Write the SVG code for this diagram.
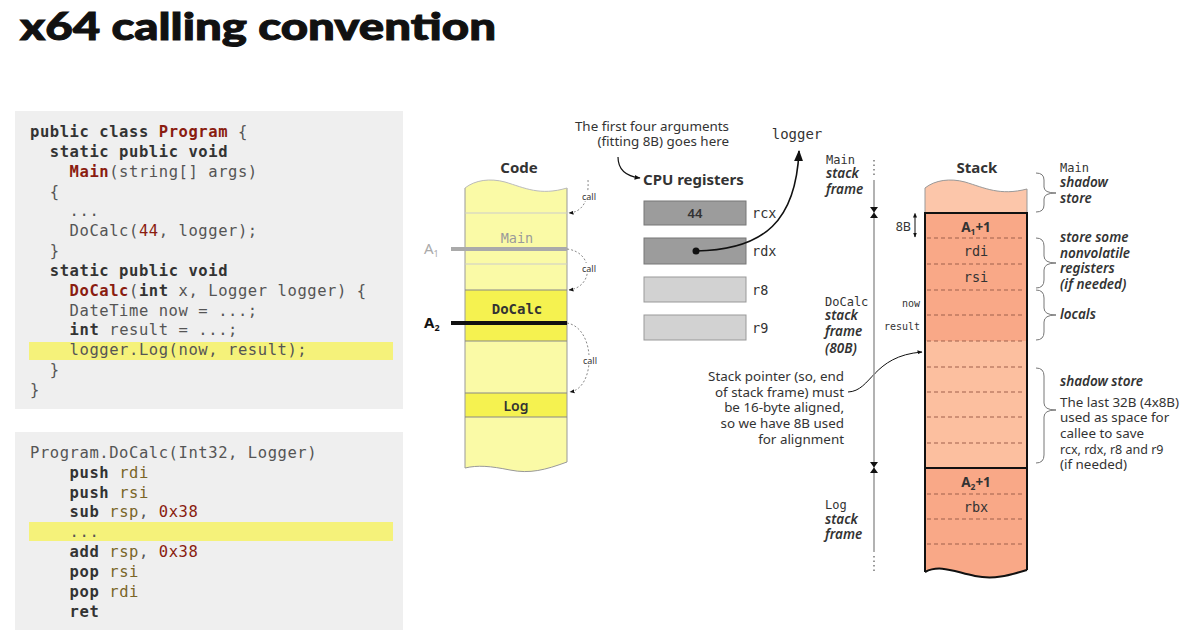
<svg xmlns="http://www.w3.org/2000/svg" width="1200" height="641" viewBox="0 0 1200 641">
<style>
.code{font-family:"DejaVu Sans Mono",monospace;font-size:15.5px;letter-spacing:0.57px;fill:#555}
.kw{fill:#333;font-weight:bold}
.id{fill:#8a1c10;font-weight:bold}
.num{fill:#8a1c10}
.reg{fill:#7a6528}
.sans{font-family:"Noto Sans","Open Sans",sans-serif;fill:#333}
.bold{font-weight:bold}
.it{font-family:"Noto Sans","Open Sans",sans-serif;font-style:italic;font-weight:600;font-size:13.5px;fill:#333}
.mono{font-family:"DejaVu Sans Mono",monospace;fill:#333}
.dash{fill:none;stroke:#888;stroke-width:1;stroke-dasharray:2,2}
.sdash{stroke:#a0604c;stroke-width:1.2;stroke-dasharray:4,3}
.brace{fill:none;stroke:#777;stroke-width:1}
.note{font-family:"Noto Sans","Open Sans",sans-serif;fill:#333;font-size:13.4px}
</style>
<defs>
<marker id="ah" viewBox="0 0 10 10" refX="9" refY="5" markerWidth="7" markerHeight="7" orient="auto"><path d="M0,1 L10,5 L0,9 Z" fill="#111"/></marker>
<marker id="ahs" viewBox="0 0 10 10" refX="9" refY="5" markerWidth="5" markerHeight="5" orient="auto"><path d="M0,1 L10,5 L0,9 Z" fill="#111"/></marker>
<marker id="ahb" viewBox="0 0 10 10" refX="1" refY="5" markerWidth="5" markerHeight="5" orient="auto-start-reverse"><path d="M0,1 L10,5 L0,9 Z" fill="#111"/></marker>
</defs>
<rect width="1200" height="641" fill="#fff"/>
<text x="20" y="40" font-family="Lato,'Open Sans',sans-serif" font-weight="900" font-size="38" fill="#111" stroke="#111" stroke-width="1" textLength="476" lengthAdjust="spacingAndGlyphs">x64 calling convention</text>

<g id="code1">
<rect x="15" y="111" width="388" height="298" fill="#efefef"/>
<rect x="29" y="342" width="364" height="18" fill="#f5f27a"/>
<text class="code" xml:space="preserve">
<tspan x="30" y="137"><tspan class="kw">public class </tspan><tspan class="id">Program</tspan> {</tspan>
<tspan x="30" y="157">  <tspan class="kw">static public void</tspan></tspan>
<tspan x="30" y="177">    <tspan class="id">Main</tspan>(string[] args)</tspan>
<tspan x="30" y="197">  {</tspan>
<tspan x="30" y="216">    ...</tspan>
<tspan x="30" y="236">    DoCalc(<tspan class="num">44</tspan>, logger);</tspan>
<tspan x="30" y="256">  }</tspan>
<tspan x="30" y="276">  <tspan class="kw">static public void</tspan></tspan>
<tspan x="30" y="296">    <tspan class="id">DoCalc</tspan>(<tspan class="kw">int</tspan> x, Logger logger) {</tspan>
<tspan x="30" y="316">    DateTime now = ...;</tspan>
<tspan x="30" y="335">    <tspan class="kw">int</tspan> result = ...;</tspan>
<tspan x="30" y="355">    logger.Log(now, result);</tspan>
<tspan x="30" y="375">  }</tspan>
<tspan x="30" y="395">}</tspan>
</text>
</g>

<g id="code2">
<rect x="15" y="432" width="388" height="198" fill="#efefef"/>
<rect x="29" y="522" width="364" height="19" fill="#f5f27a"/>
<text class="code" xml:space="preserve">
<tspan x="30" y="458">Program.DoCalc(Int32, Logger)</tspan>
<tspan x="30" y="478">    <tspan class="kw">push</tspan> <tspan class="reg">rdi</tspan></tspan>
<tspan x="30" y="498">    <tspan class="kw">push</tspan> <tspan class="reg">rsi</tspan></tspan>
<tspan x="30" y="517">    <tspan class="kw">sub</tspan> <tspan class="reg">rsp</tspan>, <tspan class="num">0x38</tspan></tspan>
<tspan x="30" y="537">    ...</tspan>
<tspan x="30" y="557">    <tspan class="kw">add</tspan> <tspan class="reg">rsp</tspan>, <tspan class="num">0x38</tspan></tspan>
<tspan x="30" y="577">    <tspan class="kw">pop</tspan> <tspan class="reg">rsi</tspan></tspan>
<tspan x="30" y="597">    <tspan class="kw">pop</tspan> <tspan class="reg">rdi</tspan></tspan>
<tspan x="30" y="617">    <tspan class="kw">ret</tspan></tspan>
</text>
</g>

<g id="code-column">
<text x="519" y="173" class="sans bold" font-size="15" text-anchor="middle">Code</text>
<path d="M465,188 C475,180 490,178 505,182 C525,188 540,196 567,188 L567,462 C545,470 530,474 510,470 C490,466 478,465 465,468 Z" fill="#fafaa6"/>
<rect x="465" y="290" width="102" height="51" fill="#f5f250"/>
<rect x="465" y="393" width="102" height="24" fill="#f5f250"/>
<path d="M465,188 L465,468 M567,188 L567,462" stroke="#999" stroke-width="1" fill="none"/>
<path d="M465,188 C475,180 490,178 505,182 C525,188 540,196 567,188" stroke="#bbb" fill="none"/>
<path d="M465,468 C478,465 490,466 510,470 C530,474 545,470 567,462" stroke="#999" fill="none"/>
<line x1="465" y1="213" x2="567" y2="213" stroke="#ccc"/>
<line x1="465" y1="264" x2="567" y2="264" stroke="#ccc"/>
<line x1="465" y1="290" x2="567" y2="290" stroke="#888"/>
<line x1="465" y1="341" x2="567" y2="341" stroke="#888"/>
<line x1="465" y1="393" x2="567" y2="393" stroke="#888"/>
<line x1="465" y1="417" x2="567" y2="417" stroke="#888"/>
<text x="517" y="243" class="mono" font-size="13.5" text-anchor="middle" style="fill:#9a9a9a">Main</text>
<text x="517" y="314" class="mono bold" font-size="14" text-anchor="middle">DoCalc</text>
<text x="516" y="411" class="sans" font-size="14" font-weight="600" text-anchor="middle">Log</text>
<line x1="451" y1="249" x2="567" y2="249" stroke="#aaa" stroke-width="4"/>
<line x1="451" y1="323" x2="567" y2="323" stroke="#111" stroke-width="4"/>
<text x="424" y="254" class="sans" font-size="15" style="fill:#aaa">A<tspan font-size="9" dy="3">1</tspan></text>
<text x="424" y="328" class="sans bold" font-size="15" style="fill:#111">A<tspan font-size="9" dy="3">2</tspan></text>
</g>

<g id="calls">
<path d="M588,180 C589,200 583,212 569,213" class="dash" marker-end="url(#ahs)"/>
<path d="M567,249 C594,252 594,287 569,290" class="dash" marker-end="url(#ahs)"/>
<path d="M567,323 C596,328 596,388 570,392" class="dash" marker-end="url(#ahs)"/>
<rect x="580" y="191" width="18" height="10" fill="#fff"/>
<rect x="580" y="263" width="18" height="10" fill="#fff"/>
<rect x="580" y="355" width="18" height="10" fill="#fff"/>
<text x="589" y="200" class="sans" font-size="9" text-anchor="middle">call</text>
<text x="589" y="272" class="sans" font-size="9" text-anchor="middle">call</text>
<text x="590" y="364" class="sans" font-size="9" text-anchor="middle">call</text>
</g>

<g id="cpu">
<text x="729" y="131" class="note" text-anchor="end">The first four arguments</text>
<text x="729" y="146" class="note" text-anchor="end">(fitting 8B) goes here</text>
<path d="M618,157 C618,168 624,176 640,178" fill="none" stroke="#111" stroke-width="1.2" marker-end="url(#ahs)"/>
<text x="643" y="185" class="sans bold" font-size="15">CPU registers</text>
<rect x="644" y="201" width="102" height="24" fill="#9c9c9c" stroke="#777"/>
<rect x="644" y="238" width="102" height="26" fill="#9c9c9c" stroke="#777"/>
<rect x="644" y="277" width="102" height="25" fill="#d2d2d2" stroke="#999"/>
<rect x="644" y="315" width="102" height="25" fill="#d2d2d2" stroke="#999"/>
<text x="695" y="218" class="sans" font-size="13" font-weight="600" text-anchor="middle">44</text>
<text x="752" y="218" class="mono" font-size="13.5">rcx</text>
<text x="752" y="256" class="mono" font-size="13.5">rdx</text>
<text x="752" y="295" class="mono" font-size="13.5">r8</text>
<text x="752" y="333" class="mono" font-size="13.5">r9</text>
<text x="797" y="139" class="mono" font-size="14" text-anchor="middle">logger</text>
</g>

<g id="connectors">
<circle cx="696" cy="251" r="3.5" fill="#111"/>
<path d="M696,251 C765,250 796,220 799,151" fill="none" stroke="#111" stroke-width="1.6" marker-end="url(#ah)"/>
<path d="M848,392 C872,391 872,356 922,352" fill="none" stroke="#111" stroke-width="1" marker-end="url(#ahs)"/>
</g>

<g id="axis">
<line x1="874" y1="160" x2="874" y2="175" stroke="#777" stroke-width="1.5" stroke-dasharray="1.5,3"/>
<line x1="874" y1="180" x2="874" y2="552" stroke="#999" stroke-width="1.5"/>
<line x1="874" y1="556" x2="874" y2="574" stroke="#777" stroke-width="1.5" stroke-dasharray="1.5,3"/>
<path d="M870,207 L878,207 L874,212.5 Z M870,218 L878,218 L874,212.5 Z" fill="#111"/>
<path d="M870,462 L878,462 L874,467.5 Z M870,473 L878,473 L874,467.5 Z" fill="#111"/>
<text x="826" y="164" class="mono" font-size="12">Main</text>
<text x="826" y="178" class="it">stack</text>
<text x="826" y="194" class="it">frame</text>
<text x="825" y="306" class="mono" font-size="12">DoCalc</text>
<text x="825" y="320" class="it">stack</text>
<text x="825" y="336" class="it">frame</text>
<text x="825" y="353" class="it">(80B)</text>
<text x="825" y="509" class="mono" font-size="12">Log</text>
<text x="825" y="524" class="it">stack</text>
<text x="825" y="539" class="it">frame</text>
<text x="844" y="381" class="note" text-anchor="end">Stack pointer (so, end</text>
<text x="844" y="397" class="note" text-anchor="end">of stack frame) must</text>
<text x="844" y="412" class="note" text-anchor="end">be 16-byte aligned,</text>
<text x="844" y="428" class="note" text-anchor="end">so we have 8B used</text>
<text x="844" y="444" class="note" text-anchor="end">for alignment</text>
<text x="911" y="231" class="sans" font-size="12.5" text-anchor="end">8B</text>
<line x1="915" y1="217" x2="915" y2="237" stroke="#111" stroke-width="1" marker-start="url(#ahb)" marker-end="url(#ahs)"/>
<text x="920" y="307" class="mono" font-size="10" text-anchor="end">now</text>
<text x="920" y="330" class="mono" font-size="10" text-anchor="end">result</text>
</g>

<g id="stack">
<text x="977" y="173" class="sans bold" font-size="15" text-anchor="middle">Stack</text>
<path d="M925,188 C935,180 950,178 965,182 C985,188 1000,196 1027,189 L1027,213 L925,213 Z" fill="#fcc6aa"/>
<path d="M925,188 C935,180 950,178 965,182 C985,188 1000,196 1027,189" stroke="#999" fill="none"/>
<path d="M925,188 L925,213 M1027,189 L1027,213" stroke="#999"/>
<rect x="925" y="213" width="102" height="128" fill="#f9a887"/>
<rect x="925" y="341" width="102" height="127" fill="#fcbf9f"/>
<path d="M925,468 L1027,468 L1027,570 C1010,575 995,580 975,576 C955,572 940,564 925,572 Z" fill="#f9a887"/>
<g class="sdash">
<line x1="927" y1="238" x2="1025" y2="238"/>
<line x1="927" y1="264" x2="1025" y2="264"/>
<line x1="927" y1="290" x2="1025" y2="290"/>
<line x1="927" y1="315" x2="1025" y2="315"/>
<line x1="927" y1="341" x2="1025" y2="341"/>
<line x1="927" y1="367" x2="1025" y2="367"/>
<line x1="927" y1="392" x2="1025" y2="392"/>
<line x1="927" y1="417" x2="1025" y2="417"/>
<line x1="927" y1="443" x2="1025" y2="443"/>
<line x1="927" y1="494" x2="1025" y2="494"/>
<line x1="927" y1="519" x2="1025" y2="519"/>
<line x1="927" y1="544" x2="1025" y2="544"/>
</g>
<path d="M925,572 L925,213 L1027,213 L1027,570" fill="none" stroke="#111" stroke-width="2"/>
<path d="M925,572 C940,564 955,572 975,576 C995,580 1010,575 1027,570" fill="none" stroke="#111" stroke-width="2"/>
<line x1="925" y1="468" x2="1027" y2="468" stroke="#111" stroke-width="2"/>
<text x="976" y="232" class="sans bold" font-size="13.5" text-anchor="middle">A<tspan font-size="8.5" dy="3">1</tspan><tspan dy="-3">+1</tspan></text>
<text x="976" y="256" class="mono" font-size="13.5" text-anchor="middle">rdi</text>
<text x="976" y="282" class="mono" font-size="13.5" text-anchor="middle">rsi</text>
<text x="976" y="487" class="sans bold" font-size="13.5" text-anchor="middle">A<tspan font-size="8.5" dy="3">2</tspan><tspan dy="-3">+1</tspan></text>
<text x="976" y="512" class="mono" font-size="13.5" text-anchor="middle">rbx</text>
</g>

<g id="braces">
<path class="brace" d="M1036,173 Q1044,173 1044,180 L1044,187 Q1044,193 1056,193 Q1044,193 1044,199 L1044,205 Q1044,212 1036,212"/>
<path class="brace" d="M1036,238 Q1044,238 1044,246 L1044,256 Q1044,263 1056,263 Q1044,263 1044,270 L1044,280 Q1044,288 1036,288"/>
<path class="brace" d="M1036,290 Q1044,290 1044,298 L1044,308 Q1044,315 1056,315 Q1044,315 1044,322 L1044,332 Q1044,340 1036,340"/>
<path class="brace" d="M1036,368 Q1044,368 1044,376 L1044,403 Q1044,410 1056,410 Q1044,410 1044,417 L1044,455 Q1044,463 1036,463"/>
<text x="1060" y="172" class="mono" font-size="12">Main</text>
<text x="1060" y="187" class="it">shadow</text>
<text x="1060" y="203" class="it">store</text>
<text x="1060" y="242" class="it">store some</text>
<text x="1060" y="258" class="it">nonvolatile</text>
<text x="1060" y="273" class="it">registers</text>
<text x="1060" y="289" class="it">(if needed)</text>
<text x="1060" y="319" class="it">locals</text>
<text x="1060" y="386" class="it">shadow store</text>
<text x="1060" y="407" class="note">The last 32B (4x8B)</text>
<text x="1060" y="422" class="note">used as space for</text>
<text x="1060" y="438" class="note">callee to save</text>
<text x="1060" y="454" class="sans" font-size="12.5">rcx, rdx, r8 and r9</text>
<text x="1060" y="469" class="note">(if needed)</text>
</g>
</svg>
